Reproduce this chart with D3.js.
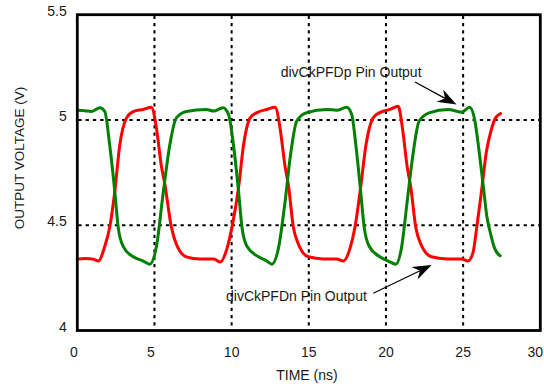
<!DOCTYPE html>
<html>
<head>
<meta charset="utf-8">
<script src="https://cdn.jsdelivr.net/npm/d3@7"></script>
<style>
  html, body { margin: 0; padding: 0; background: #fff; }
  svg { display: block; }
  text { font-family: "Liberation Sans", Arial, Helvetica, sans-serif; fill: #1a1a1a; }
</style>
</head>
<body>
<svg id="chart" width="544" height="387"></svg>
<script>
// ---- data ----
const xTicks = [0, 5, 10, 15, 20, 25, 30];
const yTicks = [4, 4.5, 5, 5.5];
const yTickLabels = ["4", "4.5", "5", "5.5"];
const xGrid = [5, 10, 15, 20, 25];
const yGrid = [4.5, 5];

// divCkPFDp (green): [time ns, volts]
const seriesP = [
  [0, 5.046], [0.5, 5.044], [0.9, 5.040], [1.46, 5.058], [1.78, 5.04], [2.1, 4.88], [2.43, 4.66],
  [2.65, 4.49], [2.97, 4.40], [3.62, 4.35], [4.27, 4.33], [4.69, 4.315], [5.13, 4.40], [5.56, 4.65],
  [5.99, 4.88], [6.42, 5.01], [7.07, 5.04], [8.36, 5.05], [8.84, 5.042], [9.44, 5.058], [9.8, 5.026],
  [10.12, 4.88], [10.45, 4.66], [10.67, 4.49], [10.99, 4.40], [11.74, 4.35], [12.28, 4.33], [12.6, 4.315],
  [13.03, 4.39], [13.46, 4.61], [13.79, 4.82], [14.22, 4.995], [14.87, 5.035], [16.16, 5.05], [16.8, 5.046],
  [17.45, 5.06], [17.78, 5.026], [18.05, 4.88], [18.36, 4.66], [18.59, 4.49], [18.91, 4.40], [19.6, 4.35],
  [20.14, 4.33], [20.64, 4.315], [21.0, 4.39], [21.37, 4.61], [21.72, 4.82], [22.15, 4.995], [22.84, 5.035],
  [24.02, 5.05], [24.89, 5.037], [25.42, 5.06], [25.75, 5.0], [26.02, 4.86], [26.33, 4.67], [26.54, 4.54],
  [26.76, 4.465], [27.04, 4.39], [27.4, 4.355]
];
// divCkPFDn (red): [time ns, volts]
const seriesN = [
  [0, 4.339], [0.5, 4.342], [1.03, 4.339], [1.36, 4.33], [1.78, 4.40], [2.1, 4.49], [2.43, 4.66],
  [2.75, 4.88], [3.19, 5.01], [3.62, 5.04], [4.27, 5.05], [4.8, 5.06], [5.13, 4.96], [5.45, 4.78],
  [5.66, 4.70], [6.1, 4.49], [6.42, 4.41], [7.07, 4.35], [7.93, 4.34], [8.84, 4.34], [9.26, 4.325],
  [9.7, 4.39], [10.02, 4.49], [10.45, 4.68], [10.77, 4.88], [11.2, 5.01], [11.64, 5.035], [12.28, 5.05],
  [12.82, 5.06], [13.14, 4.96], [13.46, 4.78], [13.68, 4.69], [14.0, 4.49], [14.33, 4.41], [14.97, 4.35],
  [15.94, 4.34], [16.8, 4.34], [17.23, 4.33], [17.67, 4.39], [17.99, 4.49], [18.36, 4.68], [18.7, 4.88],
  [19.17, 5.01], [19.6, 5.035], [20.25, 5.05], [20.79, 5.065], [21.07, 4.96], [21.37, 4.78], [21.61, 4.68],
  [21.93, 4.49], [22.26, 4.41], [22.95, 4.35], [23.92, 4.34], [24.89, 4.34], [25.31, 4.33], [25.64, 4.37],
  [25.9, 4.50], [26.18, 4.655], [26.5, 4.845], [26.83, 4.955], [27.1, 5.01], [27.43, 5.03]
];

const labelP = "divCkPFDp Pin Output";
const labelN = "divCkPFDn Pin Output";
const xTitle = "TIME (ns)";
const yTitle = "OUTPUT VOLTAGE (V)";

// ---- layout ----
const svg = d3.select("#chart");
const W = 544;
const L = 77.3, R = 540.3, T = 14.7, B = 330.5;
const x = d3.scaleLinear().domain([0, 30]).range([L, R]);
const y = d3.scaleLinear().domain([4, 5.5]).range([B, T]);

// gridlines
const grid = svg.append("g").attr("stroke", "#000").attr("stroke-width", 2).attr("stroke-dasharray", "3.3,4");
grid.selectAll("line.v").data(xGrid).join("line")
  .attr("x1", d => x(d)).attr("x2", d => x(d)).attr("y1", T + 1).attr("y2", B - 1);
grid.selectAll("line.h").data(yGrid).join("line")
  .attr("x1", L + 1).attr("x2", R - 1).attr("y1", d => y(d)).attr("y2", d => y(d));

// waveforms
const line = d3.line().x(d => x(d[0])).y(d => y(d[1])).curve(d3.curveMonotoneX);
svg.append("path").datum(seriesN).attr("d", line)
  .attr("fill", "none").attr("stroke", "#ff0000").attr("stroke-width", 3)
  .attr("stroke-linejoin", "round").attr("stroke-linecap", "round");
svg.append("path").datum(seriesP).attr("d", line)
  .attr("fill", "none").attr("stroke", "#008000").attr("stroke-width", 3)
  .attr("stroke-linejoin", "round").attr("stroke-linecap", "round");

// frame
svg.append("rect").attr("x", L).attr("y", T).attr("width", R - L).attr("height", B - T)
  .attr("fill", "none").attr("stroke", "#000").attr("stroke-width", 2.8);

// tick labels
svg.append("g").selectAll("text").data(yTicks).join("text")
  .attr("x", 66.7).attr("y", d => y(d) + 1)
  .attr("text-anchor", "end").attr("font-size", 14)
  .text((d, i) => yTickLabels[i]);
svg.append("g").selectAll("text").data(xTicks).join("text")
  .attr("x", d => d === 30 ? W - 1 : x(d) + (d < 10 ? -3.5 : 0)).attr("y", 356.8)
  .attr("text-anchor", d => d === 30 ? "end" : "middle").attr("font-size", 14)
  .text(d => d);

// axis titles
svg.append("text").attr("x", 307).attr("y", 380).attr("text-anchor", "middle")
  .attr("font-size", 14).text(xTitle);
svg.append("text").attr("transform", "translate(24,158) rotate(-90)").attr("text-anchor", "middle")
  .attr("font-size", 13.5).text(yTitle);

// annotations (data coords)
const annP = { text: [13.18, 5.2055], from: [21.88, 5.18], to: [24.57, 5.073] };
const annN = { text: [9.635, 4.14], from: [19.18, 4.177], to: [22.96, 4.311] };

function arrow(a, label) {
  svg.append("text").attr("x", x(a.text[0])).attr("y", y(a.text[1]))
    .attr("font-size", 14).text(label);
  const x0 = x(a.from[0]), y0 = y(a.from[1]), x1 = x(a.to[0]), y1 = y(a.to[1]);
  const dx = x1 - x0, dy = y1 - y0, len = Math.hypot(dx, dy);
  const ux = dx / len, uy = dy / len, px = -uy, py = ux;
  const hl = 19, hw = 7, notch = 13;
  const bx = x1 - ux * hl, by = y1 - uy * hl;
  const nx = x1 - ux * notch, ny = y1 - uy * notch;
  svg.append("line").attr("x1", x0).attr("y1", y0).attr("x2", nx).attr("y2", ny)
    .attr("stroke", "#000").attr("stroke-width", 1.2);
  svg.append("path")
    .attr("d", `M${x1},${y1}L${bx + px * hw},${by + py * hw}L${nx},${ny}L${bx - px * hw},${by - py * hw}Z`)
    .attr("fill", "#000");
}
arrow(annP, labelP);
arrow(annN, labelN);
</script>
</body>
</html>
